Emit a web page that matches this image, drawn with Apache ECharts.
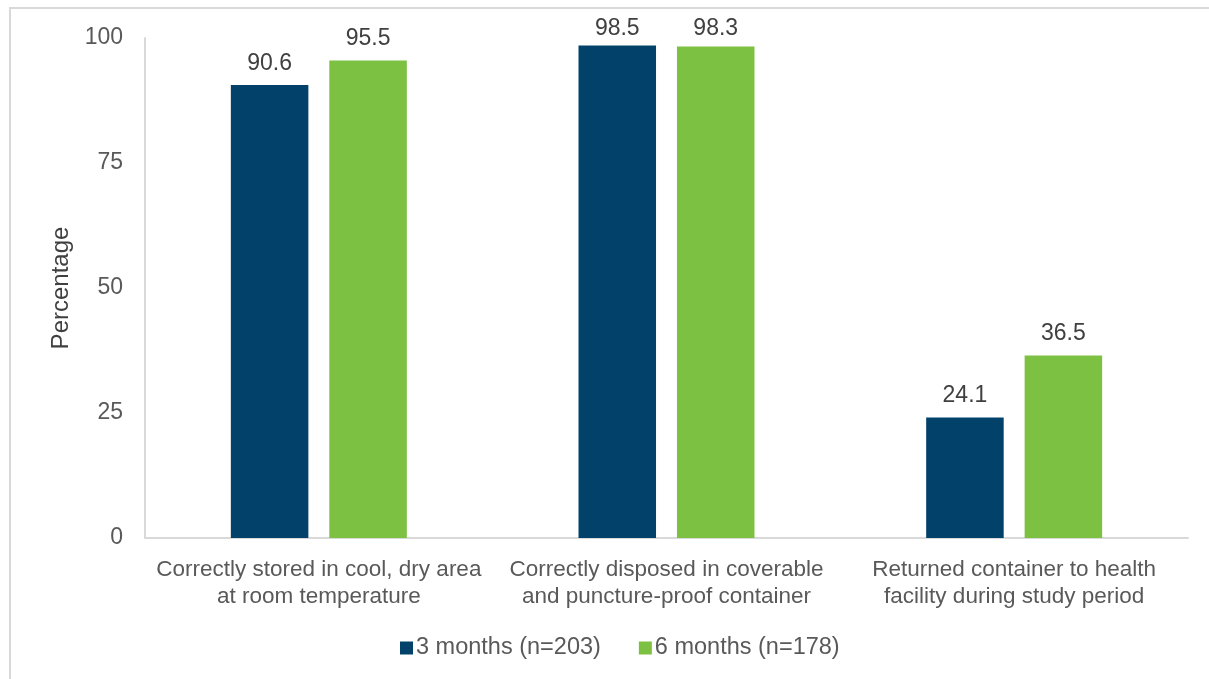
<!DOCTYPE html>
<html>
<head>
<meta charset="utf-8">
<script src="https://cdn.jsdelivr.net/npm/echarts@6/dist/echarts.min.js"></script>
<style>
  html, body { margin: 0; padding: 0; background: #fff; overflow: hidden; }
  .frame {
    position: absolute; left: 9px; top: 7px;
    width: 1260px; height: 720px;
    border: 2px solid #d9d9d9;
  }
  #chart { position: absolute; left: 0; top: 0; width: 1209px; height: 679px; }
</style>
</head>
<body>
<div class="frame"></div>
<div id="chart"></div>
<script>
const categories = [
  'Correctly stored in cool, dry area\nat room temperature',
  'Correctly disposed in coverable\nand puncture-proof container',
  'Returned container to health\nfacility during study period',
]
const threeMonths = [90.6, 98.5, 24.1]
const sixMonths = [95.5, 98.3, 36.5]
const yTicks = [0, 25, 50, 75, 100]

const font = '"Liberation Sans", Arial, sans-serif'
const chart = echarts.init(document.getElementById('chart'))

const valueLabel = {
  show: true,
  position: 'top',
  distance: 10,
  color: '#404040',
  fontSize: 23,
  fontFamily: font,
  formatter: (p) => p.value.toFixed(1),
}

// keep labels inside the chart box, like the original
const clampLabel = (params) => ({
  dy: Math.max(0, 17 - params.labelRect.y),
})

chart.setOption({
  animation: false,
  grid: { left: 145, right: 21, top: 38, bottom: 141 },
  legend: {
    bottom: 14,
    left: 395,
    icon: 'rect',
    itemWidth: 13,
    itemHeight: 13,
    itemGap: 38,
    textStyle: { color: '#595959', fontSize: 23.5, fontFamily: font, padding: [0, 0, 0, -2] },
  },
  xAxis: {
    type: 'category',
    data: categories,
    axisTick: { show: false },
    axisLine: { lineStyle: { color: '#d9d9d9', width: 2 } },
    axisLabel: {
      color: '#595959',
      fontSize: 22.5,
      fontFamily: font,
      lineHeight: 27,
      margin: 18,
      interval: 0,
    },
  },
  yAxis: {
    type: 'value',
    min: yTicks[0],
    max: yTicks[yTicks.length - 1],
    interval: 25,
    name: 'Percentage',
    nameLocation: 'middle',
    nameGap: 72,
    nameTextStyle: { color: '#404040', fontSize: 24, fontFamily: font },
    splitLine: { show: false },
    axisLine: { show: true, lineStyle: { color: '#d9d9d9', width: 2 } },
    axisTick: { show: false },
    axisLabel: { color: '#595959', fontSize: 23, fontFamily: font, margin: 22 },
  },
  series: [{
    name: '3 months (n=203)',
    type: 'bar',
    data: threeMonths,
    barWidth: '22.3%',
    barGap: '27%',
    itemStyle: { color: '#02426a' },
    label: valueLabel,
    labelLayout: clampLabel,
  }, {
    name: '6 months (n=178)',
    type: 'bar',
    data: sixMonths,
    barWidth: '22.3%',
    itemStyle: { color: '#7cc142' },
    label: valueLabel,
    labelLayout: clampLabel,
  }],
})
</script>
</body>
</html>
